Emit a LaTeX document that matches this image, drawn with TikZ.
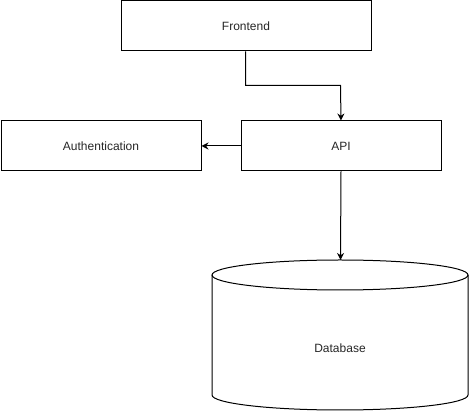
\documentclass[tikz,border=0pt]{standalone}
\usepackage{fontspec}
\setmainfont{Liberation Sans}
\usetikzlibrary{arrows.meta,calc}
\begin{document}
\begin{tikzpicture}[x=1pt,y=-1pt,
  box/.style={draw=black,line width=1pt,minimum width=200pt,minimum height=50pt,inner sep=0pt,anchor=north west,font=\fontsize{12pt}{14pt}\selectfont,text=black!85},
  conn/.style={draw=black,line width=1pt,-{Stealth[length=7pt,width=7pt]}},
  dbstyle/.style={draw=black,line width=1pt}]
\useasboundingbox (0,0) rectangle (469,411);
\node[box,minimum width=250pt] (fe) at (120.5,0.5) {Frontend};
\node[box] (api) at (240.5,120.5) {API};
\node[box] (auth) at (0.5,120.5) {Authentication};
% cylinder
\draw[dbstyle] (212,275) -- (212,395) arc[start angle=180,end angle=360,x radius=128pt,y radius=15pt] -- (468,275);
\draw[dbstyle] (340,275) ellipse[x radius=128pt,y radius=15pt];
\node[inner sep=0pt,minimum width=256pt,minimum height=120pt,font=\fontsize{12pt}{14pt}\selectfont,text=black!85] (db) at (340,348) {Database};
\coordinate (dbtop) at (340.5,260);
% connectors
\draw[conn] (fe.south -| 245.5,0) |- (340.5,85.5) -- (api.north);
\draw[conn] (api.west) -- (auth.east);
\draw[conn] (api.south) -- (dbtop);
\end{tikzpicture}
\end{document}
